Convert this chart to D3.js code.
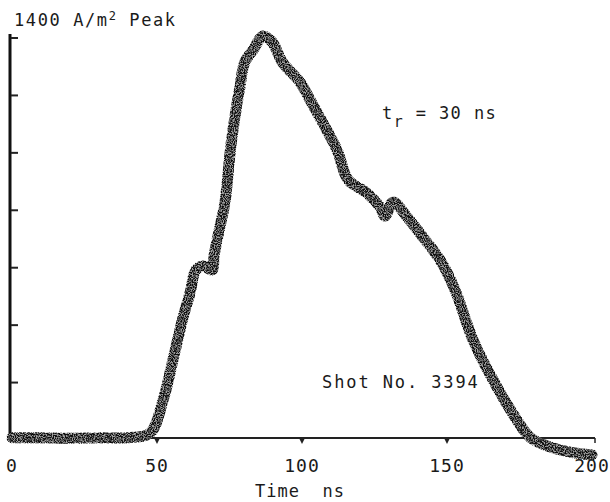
<!DOCTYPE html>
<html>
<head>
<meta charset="utf-8">
<script src="https://cdn.jsdelivr.net/npm/d3@7"></script>
<style>
  body { margin: 0; background: #fff; }
  text { font-family: "DejaVu Sans Mono", monospace; fill: #1a1a1a; }
</style>
</head>
<body>
<div id="chart"></div>
<script>
// trace: time (ns) and current density (A/m^2)
var timeNs = [0, 10, 20, 30, 40, 47.6, 52.1, 55.5, 59.0, 61.4, 63.4, 65.9, 69.0, 69.7, 71.7, 73.4,
  75.2, 76.2, 78.6, 80.3, 83.1, 86.6, 89.7, 93.4, 99.3, 102.8, 107.2, 112.1, 115.9, 122.4,
  126.9, 128.6, 131.4, 136.2, 141.7, 147.6, 152.8, 159.0, 167.2, 174.1, 178.6, 185.5, 192.4, 200];
var density = [8, 8, 6, 8, 8, 24, 139, 279, 428, 512, 592, 606, 592, 644, 742, 825,
  1000, 1080, 1230, 1317, 1358, 1407, 1386, 1313, 1247, 1184, 1104, 1010, 906, 860,
  812, 780, 829, 777, 707, 627, 522, 348, 185, 70, 10, -24, -42, -52];

var xTicks = [0, 50, 100, 150, 200];
var xMarks = [50, 100, 150];
var yTicks = [200, 400, 600, 800, 1000, 1200, 1400];

var width = 610, height = 502;

var svg = d3.select("#chart")
  .append("svg")
    .attr("width", width)
    .attr("height", height);

var x = d3.scaleLinear()
  .domain([0, 200])
  .range([12, 592]);

var y = d3.scaleLinear()
  .domain([0, 1400])
  .range([440, 38]);

// speckle texture for the photographed trace
var defs = svg.append("defs");
var grain = defs.append("filter").attr("id", "grain")
  .attr("x", "-5%").attr("y", "-5%").attr("width", "110%").attr("height", "110%");
grain.append("feTurbulence")
  .attr("type", "fractalNoise")
  .attr("baseFrequency", 0.9)
  .attr("numOctaves", 2)
  .attr("seed", 3)
  .attr("result", "noise");
grain.append("feColorMatrix")
  .attr("in", "noise")
  .attr("type", "matrix")
  .attr("values", "0 0 0 0 0  0 0 0 0 0  0 0 0 0 0  0 0 0 -4 2.6")
  .attr("result", "mask");
grain.append("feComposite")
  .attr("in", "SourceGraphic")
  .attr("in2", "mask")
  .attr("operator", "in");

// Y axis line and ticks
svg.append("line")
  .attr("x1", x(0) - 2).attr("x2", x(0) - 2)
  .attr("y1", y(1400) - 4).attr("y2", y(0))
  .attr("stroke", "#111")
  .attr("stroke-width", 3);

svg.selectAll(".ytick")
  .data(yTicks)
  .enter()
  .append("line")
    .attr("class", "ytick")
    .attr("x1", x(0) - 1).attr("x2", x(0) + 6)
    .attr("y1", function(d) { return y(d); })
    .attr("y2", function(d) { return y(d); })
    .attr("stroke", "#222")
    .attr("stroke-width", 2);

// X axis line
svg.append("line")
  .attr("x1", x(0)).attr("x2", x(200) + 3)
  .attr("y1", y(0) - 2).attr("y2", y(0) - 2)
  .attr("stroke", "#222")
  .attr("stroke-width", 1.8);
svg.append("line")
  .attr("x1", x(200) + 3).attr("x2", x(200) + 3)
  .attr("y1", y(0) - 2).attr("y2", y(0) + 3)
  .attr("stroke", "#222")
  .attr("stroke-width", 1.5);

// little "v" tick marks under the x axis
svg.selectAll(".xmark")
  .data(xMarks)
  .enter()
  .append("path")
    .attr("class", "xmark")
    .attr("d", function(d) {
      var cx = x(d), cy = y(0) - 2;
      return "M" + (cx - 3) + "," + cy + "L" + cx + "," + (cy + 6) + "L" + (cx + 3) + "," + cy + "Z";
    })
    .attr("fill", "#222");

// the trace
var line = d3.line()
  .x(function(d) { return x(d[0]); })
  .y(function(d) { return y(d[1]); })
  .curve(d3.curveCatmullRom.alpha(0.5));

var pts = timeNs.map(function(t, i) { return [t, density[i]]; });

svg.append("path")
  .datum(pts)
  .attr("d", line)
  .attr("fill", "none")
  .attr("stroke", "#a0a0a0")
  .attr("stroke-width", 10)
  .attr("stroke-linecap", "round")
  .attr("stroke-linejoin", "round");

svg.append("path")
  .datum(pts)
  .attr("d", line)
  .attr("fill", "none")
  .attr("stroke", "#111")
  .attr("stroke-width", 11)
  .attr("stroke-linecap", "round")
  .attr("stroke-linejoin", "round")
  .attr("filter", "url(#grain)");

// x tick labels
svg.selectAll(".xlabel")
  .data(xTicks)
  .enter()
  .append("text")
    .attr("class", "xlabel")
    .attr("x", function(d) { return x(d); })
    .attr("y", 472)
    .attr("text-anchor", "middle")
    .style("font-size", "18px")
    .style("letter-spacing", "1px")
    .text(function(d) { return d; });

svg.append("text")
  .attr("x", 300)
  .attr("y", 497)
  .attr("text-anchor", "middle")
  .style("font-size", "17px")
  .style("letter-spacing", "1px")
  .attr("xml:space", "preserve")
  .text("Time  ns");

// peak label
var peak = svg.append("text")
  .attr("x", 14)
  .attr("y", 26)
  .style("font-size", "17px")
  .style("letter-spacing", "1.6px");
peak.append("tspan").text("1400 A/m");
peak.append("tspan").attr("dy", -6).style("font-size", "12px").text("2");
peak.append("tspan").attr("dy", 6).text(" Peak");

// rise time label
var tr = svg.append("text")
  .attr("x", 382)
  .attr("y", 119)
  .style("font-size", "17px")
  .style("letter-spacing", "1.4px")
  .attr("xml:space", "preserve");
tr.append("tspan").text("t");
tr.append("tspan").attr("dy", 8).style("font-size", "15px").text("r");
tr.append("tspan").attr("dy", -8).text(" = 30 ns");

svg.append("text")
  .attr("x", 322)
  .attr("y", 388)
  .style("font-size", "17px")
  .style("letter-spacing", "1.9px")
  .text("Shot No. 3394");
</script>
</body>
</html>
